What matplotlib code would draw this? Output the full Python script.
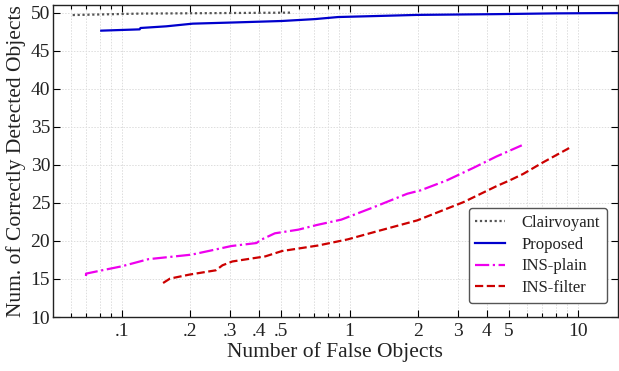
import matplotlib
matplotlib.use("Agg")
import matplotlib.pyplot as plt
from matplotlib.ticker import FixedLocator, FixedFormatter, NullFormatter

clair_x = [0.061, 0.12, 0.557]
clair_y = [49.68, 49.87, 50.0]

prop_x = [0.0814, 0.12, 0.121, 0.157, 0.205, 0.306, 0.505, 0.705, 0.89, 1.3, 1.98, 4.41, 8.0, 15.0]
prop_y = [47.63, 47.8, 47.98, 48.2, 48.55, 48.7, 48.9, 49.15, 49.42, 49.55, 49.7, 49.8, 49.9, 49.95]

plain_x = [0.0698, 0.0698, 0.0794, 0.1, 0.131, 0.203, 0.248, 0.303, 0.39, 0.41, 0.47, 0.596, 0.72, 0.92,
           1.28, 1.79, 2.05, 2.67, 3.49, 4.41, 5.69]
plain_y = [15.39, 15.7, 16.05, 16.66, 17.6, 18.2, 18.76, 19.33, 19.72, 20.17, 21.0, 21.48, 22.1, 22.8,
           24.45, 26.2, 26.65, 27.96, 29.6, 31.1, 32.56]

filt_x = [0.152, 0.163, 0.198, 0.259, 0.277, 0.306, 0.427, 0.505, 0.596, 0.728, 0.98, 1.37, 1.98, 3.16,
          4.41, 5.04, 5.77, 7.03, 9.18]
filt_y = [14.47, 15.05, 15.57, 16.14, 16.8, 17.3, 17.97, 18.67, 19.0, 19.4, 20.2, 21.4, 22.7, 25.1,
          27.2, 27.96, 28.8, 30.3, 32.2]

xticks = [0.1, 0.2, 0.3, 0.4, 0.5, 1, 2, 3, 4, 5, 10]
xticklabels = [".1", ".2", ".3", ".4", ".5", "1", "2", "3", "4", "5", "10"]
xminor = [0.06, 0.07, 0.08, 0.09, 0.6, 0.7, 0.8, 0.9, 6, 7, 8, 9]
yticks = [10, 15, 20, 25, 30, 35, 40, 45, 50]

plt.rcParams['font.family'] = ['Liberation Serif', 'DejaVu Serif']
plt.rcParams['text.color'] = '#222222'
plt.rcParams['axes.labelcolor'] = '#222222'
plt.rcParams['xtick.labelcolor'] = '#222222'
plt.rcParams['ytick.labelcolor'] = '#222222'

fig = plt.figure(figsize=(6.19, 3.71), dpi=100)
ax = fig.add_axes([0.0856, 0.1455, 0.9124, 0.841])

ax.plot(clair_x, clair_y, color='#555555', ls=(0, (1, 1.2)), lw=1.6, label='Clairvoyant')
ax.plot(prop_x, prop_y, color='#0000cc', ls='-', lw=1.6, label='Proposed')
ax.plot(plain_x, plain_y, color='#ee00ee', ls='-.', lw=1.6, label='INS-plain')
ax.plot(filt_x, filt_y, color='#cc0000', ls='--', lw=1.6, label='INS-filter')

ax.set_xscale('log')
ax.set_xlim(0.05, 15)
ax.set_ylim(10, 51)
ax.xaxis.set_major_locator(FixedLocator(xticks))
ax.xaxis.set_major_formatter(FixedFormatter(xticklabels))
ax.xaxis.set_minor_locator(FixedLocator(xminor))
ax.xaxis.set_minor_formatter(NullFormatter())
ax.set_yticks(yticks)

ax.tick_params(which='both', direction='in', top=True, right=True, labelsize=14)
ax.tick_params(which='major', length=5, width=0.8, pad=4)
ax.tick_params(which='minor', length=3, width=0.8)
ax.tick_params(axis='y', pad=2)
ax.grid(True, which='both', color='#dddddd', ls=(0, (1.5, 1.5)), lw=0.7)
for s in ax.spines.values():
    s.set_linewidth(1.0)
    s.set_color('#222222')

ax.set_xlabel('Number of False Objects', fontsize=15.5, labelpad=2)
ax.set_ylabel('Num. of Correctly Detected Objects', fontsize=15.5, labelpad=3)

leg = ax.legend(loc='lower right', fontsize=12, frameon=True, fancybox=True,
                edgecolor='#555555', framealpha=1, handlelength=1.8,
                bbox_to_anchor=(0.981, 0.045), borderaxespad=0,
                borderpad=0.4, labelspacing=0.35, handletextpad=1.0)
leg.get_frame().set_linewidth(1.0)

fig.savefig('out.png', dpi=100)
